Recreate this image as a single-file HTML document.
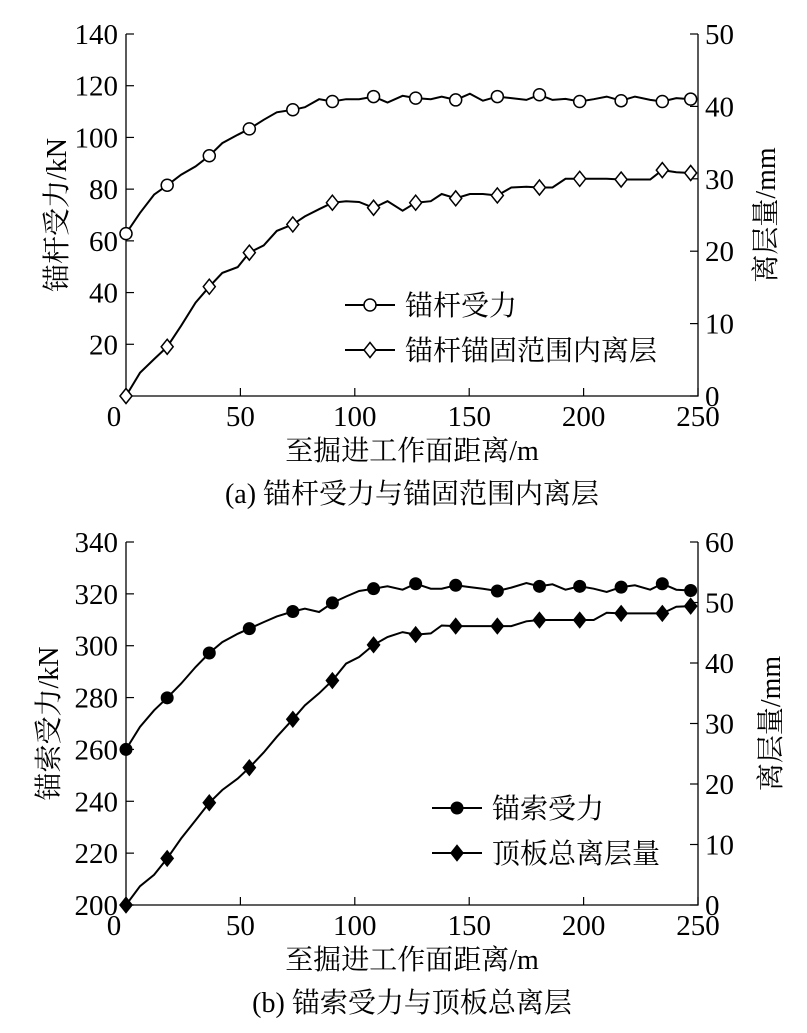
<!DOCTYPE html>
<html><head><meta charset="utf-8"><style>
html,body{margin:0;padding:0;background:#fff;}
svg{display:block;font-family:"Liberation Serif","Noto Serif CJK SC","Noto Sans CJK SC",serif;}
</style></head><body>
<svg id="chart" width="807" height="1033" viewBox="0 0 807 1033" xmlns="http://www.w3.org/2000/svg"></svg>
<script>
const xValues=[0,6.1,12.3,18.0,24.1,30.4,36.4,42.1,48.8,53.9,60.2,65.9,72.9,78.2,84.4,90.2,96.2,101.9,108.2,114.3,120.9,126.6,133.2,138.0,144.1,150.3,156.0,162.3,168.4,175.0,180.7,186.4,192.1,198.3,204.4,210.1,216.4,222.4,229.1,234.4,240.5,246.8];
const markerIdx=[0,3,6,9,12,15,18,21,24,27,30,33,36,39,41];
const boltForce=[62.8,70.8,77.9,81.5,85.6,88.8,92.9,97.8,101.0,103.3,106.8,109.7,110.7,111.7,114.8,113.9,114.8,114.8,115.8,113.5,116.1,115.2,114.8,115.8,114.5,116.9,114.2,115.8,115.2,114.5,116.5,114.5,114.9,113.9,114.8,115.8,114.2,115.8,114.5,113.9,115.2,114.8];
const boltSep=[0,3.2,5.1,6.8,9.7,12.9,15.1,17.0,17.8,19.8,20.8,22.8,23.7,24.8,25.8,26.7,26.9,26.8,26.0,26.9,25.6,26.7,26.9,27.9,27.3,27.9,27.9,27.7,28.8,28.9,28.8,28.8,30.0,30.0,30.0,30.0,29.9,29.9,29.9,31.2,30.9,30.8];
const cableForce=[260.0,268.7,275.1,279.9,285.4,291.8,297.2,301.4,304.6,306.6,309.1,311.3,313.2,314.3,313.0,316.5,319.0,321.1,322.0,322.9,321.6,323.9,322.0,322.0,323.3,322.6,322.0,321.1,322.4,324.2,322.9,323.7,321.6,322.9,322.0,320.7,322.6,323.3,321.6,323.9,321.6,321.3];
const roofSep=[0,3.1,5.0,7.7,11.0,14.0,16.9,19.0,20.9,22.7,25.2,27.8,30.7,33.0,35.0,37.1,39.9,41.0,43.0,44.3,45.1,44.7,44.9,46.2,46.1,46.1,46.1,46.1,46.1,46.9,47.1,47.1,47.1,47.1,47.1,48.3,48.2,48.2,48.2,48.2,49.3,49.4];
const xTicks=[0,50,100,150,200,250];
const leftTicksA=[20,40,60,80,100,120,140];
const rightTicksA=[0,10,20,30,40,50];
const leftTicksB=[200,220,240,260,280,300,320,340];
const rightTicksB=[0,10,20,30,40,50,60];

const NS="http://www.w3.org/2000/svg";
const svg=document.getElementById('chart');
function mk(tag,attrs,parent,text){const e=document.createElementNS(NS,tag);for(const k in attrs)e.setAttribute(k,attrs[k]);if(text!==undefined)e.textContent=text;(parent||svg).appendChild(e);return e;}

function panel(cfg){
  const g=mk('g',{});
  
  
  const X0=126,X1=698,T=cfg.top,B=cfg.bottom;
  const sx=v=>X0+(v-0)/250*(X1-X0);
  const syL=v=>B-(v-cfg.lMin)/(cfg.lMax-cfg.lMin)*(B-T);
  const syR=v=>B-(v-cfg.rMin)/(cfg.rMax-cfg.rMin)*(B-T);
  const frame=mk('path',{d:`M${X0},${T}V${B}H${X1}V${T}`,fill:'none',stroke:'#000','stroke-width':1.3},g);
  
  
  xTicks.forEach(v=>{
    mk('line',{x1:sx(v),x2:sx(v),y1:B,y2:B-8,stroke:'#000','stroke-width':1.2},g);
    const t=mk('text',{x:sx(v)+(v===0?-12:0),y:B+30,'font-size':29,'text-anchor':'middle'},g,String(v));
    
    
  });
  cfg.lTicks.forEach(v=>{
    mk('line',{x1:X0,x2:X0+8,y1:syL(v),y2:syL(v),stroke:'#000','stroke-width':1.2},g);
    const t=mk('text',{x:X0-8,y:syL(v)+10,'font-size':29,'text-anchor':'end'},g,String(v));
    
    
  });
  cfg.rTicks.forEach(v=>{
    mk('line',{x1:X1,x2:X1-8,y1:syR(v),y2:syR(v),stroke:'#000','stroke-width':1.2},g);
    const t=mk('text',{x:X1+7,y:syR(v)+10,'font-size':29,'text-anchor':'start'},g,String(v));
    
    
  });
  function series(vals,sy,marker,name){
    const d=vals.map((v,i)=>(i?'L':'M')+sx(xValues[i]).toFixed(1)+','+sy(v).toFixed(1)).join('');
    const p=mk('path',{d,fill:'none',stroke:'#000','stroke-width':2},g);
    
    
    markerIdx.forEach(i=>{
      const m=drawMarker(g,marker,sx(xValues[i]),sy(vals[i]));
      
      
    });
  }
  series(cfg.s1,syL,cfg.m1,cfg.n1);
  series(cfg.s2,syR,cfg.m2,cfg.n2);
  [[cfg.leg1,cfg.m1,cfg.legY],[cfg.leg2,cfg.m2,cfg.legY+45]].forEach(([txt,m,y])=>{
    const lg=mk('g',{},g);
    
    
    mk('line',{x1:cfg.legX,x2:cfg.legX+50,y1:y,y2:y,stroke:'#000','stroke-width':2},lg);
    drawMarker(lg,m,cfg.legX+25,y);
    mk('text',{x:cfg.legX+60,y:y+10,'font-size':28},lg,txt);
  });
  const yl=mk('text',{x:0,y:0,'font-size':28,'text-anchor':'middle',transform:`translate(${cfg.ltx},${(T+B)/2}) rotate(-90)`},g,cfg.ltitle);
  
  
  const yr=mk('text',{x:0,y:0,'font-size':28,'text-anchor':'middle',transform:`translate(${cfg.rtx},${(T+B)/2}) rotate(-90)`},g,'离层量/mm');
  
  
  const xt=mk('text',{x:412,y:B+64,'font-size':28,'text-anchor':'middle'},g,'至掘进工作面距离/m');
  
  
  const cap=mk('text',{x:412,y:B+107,'font-size':28,'text-anchor':'middle'},g,cfg.caption);
  
  
}
function drawMarker(parent,type,x,y){
  if(type==='circle')return mk('circle',{cx:x,cy:y,r:6,fill:'#fff',stroke:'#000','stroke-width':1.5},parent);
  if(type==='dot')return mk('circle',{cx:x,cy:y,r:6.5,fill:'#000'},parent);
  const r=7.5;const f=type==='diamondFill'?'#000':'#fff';
  return mk('path',{d:`M${x},${y-r}L${x+r*0.8},${y}L${x},${y+r}L${x-r*0.8},${y}Z`,fill:f,stroke:'#000','stroke-width':1.5},parent);
}
panel({name:'panel-a',top:34,bottom:396,lMin:0,lMax:140,rMin:0,rMax:50,lTicks:leftTicksA,rTicks:rightTicksA,
  s1:boltForce,s2:boltSep,m1:'circle',m2:'diamond',n1:'bolt-force',n2:'bolt-separation',
  leg1:'锚杆受力',leg2:'锚杆锚固范围内离层',legX:345,legY:305,ltx:66,rtx:775,ltitle:'锚杆受力/kN',caption:'(a)  锚杆受力与锚固范围内离层'});
panel({name:'panel-b',top:542,bottom:905,lMin:200,lMax:340,rMin:0,rMax:60,lTicks:leftTicksB,rTicks:rightTicksB,
  s1:cableForce,s2:roofSep,m1:'dot',m2:'diamondFill',n1:'cable-force',n2:'roof-separation',
  leg1:'锚索受力',leg2:'顶板总离层量',legX:432,legY:808,ltx:58,rtx:780,ltitle:'锚索受力/kN',caption:'(b)  锚索受力与顶板总离层'});
</script>
</body></html>
